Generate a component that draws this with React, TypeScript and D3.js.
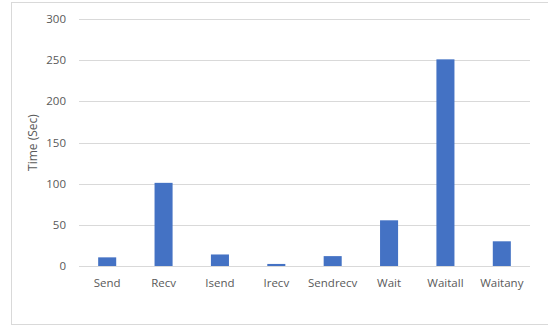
import React from "react";
import * as d3 from "d3";

const categories = ["Send", "Recv", "Isend", "Irecv", "Sendrecv", "Wait", "Waitall", "Waitany"];
const timeSec = [10.5, 101, 14, 2.5, 12, 55.5, 251, 30];
const yTicks = [0, 50, 100, 150, 200, 250, 300];

const W = 548;
const H = 329;
const plot = { left: 79, right: 530, top: 19, bottom: 266 };
const font = "'Open Sans', sans-serif";
const textColor = "#595959";

export default function App() {
  const x = d3
    .scaleBand<string>()
    .domain(categories)
    .range([plot.left, plot.right])
    .paddingInner(0.68)
    .paddingOuter(0.34);
  const y = d3.scaleLinear().domain([0, 300]).range([plot.bottom, plot.top]);

  return (
    <div style={{ position: "absolute", left: 0, top: 0 }}>
      <svg width={W} height={H} style={{ display: "block", background: "#fff" }}>
        <rect x={11.5} y={2.5} width={W} height={322} fill="#fff" stroke="#d9d9d9" strokeWidth={1} />
        {yTicks.map((t) => (
          <g key={t}>
            <line
              x1={plot.left}
              x2={plot.right}
              y1={Math.round(y(t)) + 0.5}
              y2={Math.round(y(t)) + 0.5}
              stroke="#d9d9d9"
              strokeWidth={1}
            />
            <text
              x={66}
              y={y(t)}
              dy="0.35em"
              textAnchor="end"
              fontFamily={font}
              fontSize={11.5}
              fill={textColor}
            >
              {t}
            </text>
          </g>
        ))}
        {categories.map((c, i) => (
          <rect
            key={c}
            x={x(c)}
            y={y(timeSec[i])}
            width={x.bandwidth()}
            height={y(0) - y(timeSec[i])}
            fill="#4472c4"
          />
        ))}
        {categories.map((c) => (
          <text
            key={c}
            x={(x(c) as number) + x.bandwidth() / 2}
            y={287}
            textAnchor="middle"
            fontFamily={font}
            fontSize={11.5}
            fill={textColor}
          >
            {c}
          </text>
        ))}
        <text
          transform={`translate(37, ${(plot.top + plot.bottom) / 2}) rotate(-90)`}
          textAnchor="middle"
          fontFamily={font}
          fontSize={12}
          fill={textColor}
        >
          Time (Sec)
        </text>
      </svg>
    </div>
  );
}
